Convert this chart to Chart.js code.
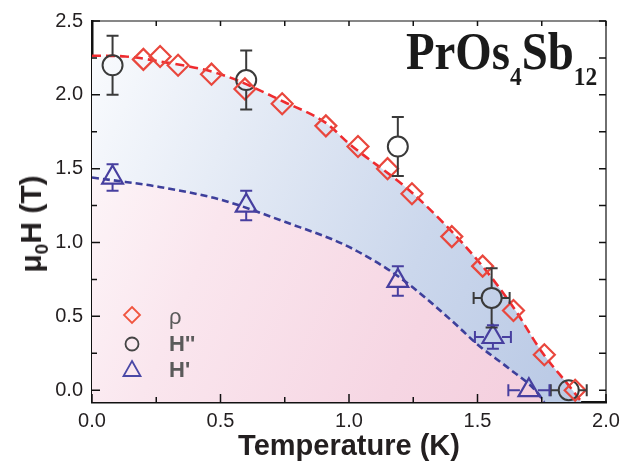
<!DOCTYPE html>
<html><head><meta charset="utf-8">
<script src="https://cdn.jsdelivr.net/npm/chart.js@4.4.1/dist/chart.umd.min.js"></script>
<style>
html,body{margin:0;padding:0;background:#fff;}
#wrap{position:relative;width:632px;height:462px;}
#ttl{position:absolute;left:406px;top:26px;font-family:'Liberation Serif','Times New Roman',serif;font-weight:bold;font-size:52px;line-height:52px;color:#1a1a1a;transform:scaleX(0.9);transform-origin:0 0;white-space:nowrap;}
#ttl span{font-size:26px;line-height:0;position:relative;top:16px;}
#ytl{position:absolute;left:31px;top:224px;transform:translate(-50%,-50%) rotate(-90deg);font-family:'Liberation Sans',Arial,sans-serif;font-weight:bold;font-size:30px;line-height:30px;color:#231f20;white-space:nowrap;}
#ytl span{font-size:19px;line-height:0;position:relative;top:7px;}
</style></head><body>
<div id="wrap"><canvas id="c" width="632" height="462"></canvas><div id="ttl">PrOs<span>4</span>Sb<span>12</span></div><div id="ytl">μ<span>0</span>H (T)</div></div>
<script>
// ---- data ----
const rhoT=[0.20,0.265,0.335,0.465,0.595,0.74,0.91,1.035,1.15,1.245,1.40,1.52,1.64,1.76,1.88];
const rhoH=[2.24,2.26,2.20,2.14,2.04,1.94,1.79,1.65,1.50,1.33,1.04,0.84,0.54,0.24,0.00];
const hppT=[0.08,0.60,1.19,1.555,1.855];
const hppH=[2.20,2.10,1.65,0.625,0.00];
const hppErrY=[0.20,0.20,0.20,0.20,0];
const hppErrX=[0,0,0,0.07,0.07];
const hpT=[0.08,0.60,1.19,1.56,1.70];
const hpH=[1.44,1.25,0.74,0.36,0.00];
const hpErrY=[0.09,0.10,0.10,0.08,0];
const hpErrX=[0,0,0,0.07,0.08];
const fitRhoT=[0,0.13,0.25,0.5,0.75,0.91,1.0,1.25,1.5,1.64,1.75,1.87,1.905];
const fitRhoH=[2.265,2.26,2.23,2.14,1.95,1.81,1.67,1.33,0.88,0.56,0.26,0.0,-0.08];
const fitHpT=[0,0.13,0.25,0.5,0.75,1.0,1.2,1.4,1.5,1.62,1.725,1.76];
const fitHpH=[1.44,1.41,1.38,1.29,1.14,0.97,0.76,0.47,0.31,0.15,0.0,-0.08];
const xTicks=[0,0.5,1,1.5,2], xMinor=[0.25,0.75,1.25,1.75];
const yTicks=[0,0.5,1,1.5,2,2.5], yMinor=[0.25,0.75,1.25,1.75,2.25];
const legendLabels=['ρ',"H''","H'"];

const pts=(xs,ys)=>xs.map((x,i)=>({x:x,y:ys[i]}));
const C_RHO='#e9473d', C_HPP='#3a3a3a', C_HP='#473f9f';

function grad(stops){
  return (ctx)=>{
    const ch=ctx.chart, a=ch.chartArea;
    if(!a) return 'rgba(0,0,0,0)';
    const g=ch.ctx.createLinearGradient(a.left,a.top,a.right,a.bottom*0.6+a.top*0.4);
    stops.forEach(s=>g.addColorStop(s[0],s[1]));
    return g;
  };
}

const errPlugin={id:'err',afterDatasetsDraw(chart){
  const {ctx,scales:{x,y}}=chart;
  const draw=(T,H,eX,eY,col,rUp,rDown,rSide)=>{
    ctx.save();ctx.strokeStyle=col;ctx.lineWidth=2;
    T.forEach((t,i)=>{
      const px=x.getPixelForValue(t), py=y.getPixelForValue(H[i]);
      if(eY[i]>0){
        const top=y.getPixelForValue(H[i]+eY[i]), bot=y.getPixelForValue(H[i]-eY[i]);
        ctx.beginPath();
        if(py-rUp>top){ctx.moveTo(px,py-rUp);ctx.lineTo(px,top);}
        if(py+rDown<bot){ctx.moveTo(px,py+rDown);ctx.lineTo(px,bot);}
        ctx.moveTo(px-6,top);ctx.lineTo(px+6,top);
        ctx.moveTo(px-6,bot);ctx.lineTo(px+6,bot);
        ctx.stroke();
      }
      if(eX[i]>0){
        const l=x.getPixelForValue(t-eX[i]), r=x.getPixelForValue(t+eX[i]);
        ctx.beginPath();
        ctx.moveTo(px-rSide,py);ctx.lineTo(l,py);
        ctx.moveTo(px+rSide,py);ctx.lineTo(r,py);
        ctx.moveTo(l,py-6);ctx.lineTo(l,py+6);
        ctx.moveTo(r,py-6);ctx.lineTo(r,py+6);
        ctx.stroke();
      }
    });
    ctx.restore();
  };
  draw(hppT,hppH,hppErrX,hppErrY,C_HPP,10,10,10);
  draw(hpT,hpH,hpErrX,hpErrY,C_HP,12,6,9);
}};

const frame={id:'frame',afterDraw(chart){
  const {ctx,chartArea:a,scales:{x,y}}=chart;
  ctx.save();ctx.strokeStyle='#111';
  ctx.lineWidth=1.2;ctx.beginPath();
  ctx.moveTo(a.left,a.top);ctx.lineTo(a.right,a.top);ctx.lineTo(a.right,a.bottom);ctx.stroke();
  ctx.lineWidth=1.5;ctx.beginPath();
  xTicks.forEach(v=>{const p=x.getPixelForValue(v);ctx.moveTo(p,a.bottom);ctx.lineTo(p,a.bottom-8);ctx.moveTo(p,a.top);ctx.lineTo(p,a.top+5);});
  xMinor.forEach(v=>{const p=x.getPixelForValue(v);ctx.moveTo(p,a.bottom);ctx.lineTo(p,a.bottom-5);ctx.moveTo(p,a.top);ctx.lineTo(p,a.top+5);});
  yTicks.forEach(v=>{const p=y.getPixelForValue(v);ctx.moveTo(a.left,p);ctx.lineTo(a.left+8,p);ctx.moveTo(a.right,p);ctx.lineTo(a.right-7,p);});
  yMinor.forEach(v=>{const p=y.getPixelForValue(v);ctx.moveTo(a.left,p);ctx.lineTo(a.left+5,p);ctx.moveTo(a.right,p);ctx.lineTo(a.right-7,p);});
  ctx.stroke();
  // legend
  const lx=a.left+40, ly=[a.top+294,a.top+323,a.top+349];
  ctx.lineWidth=1.8;
  ctx.strokeStyle='#f0553f';ctx.beginPath();
  ctx.moveTo(lx,ly[0]-8);ctx.lineTo(lx+8,ly[0]);ctx.lineTo(lx,ly[0]+8);ctx.lineTo(lx-8,ly[0]);ctx.closePath();ctx.stroke();
  ctx.strokeStyle='#444';ctx.beginPath();ctx.arc(lx,ly[1],6.5,0,Math.PI*2);ctx.stroke();
  ctx.strokeStyle='#4a48a6';ctx.beginPath();
  ctx.moveTo(lx,ly[2]-9);ctx.lineTo(lx+8.5,ly[2]+6);ctx.lineTo(lx-8.5,ly[2]+6);ctx.closePath();ctx.stroke();
  ctx.fillStyle='#5a5a5a';ctx.textBaseline='middle';ctx.textAlign='left';
  ctx.font='22px "Liberation Sans", Arial, sans-serif';
  ctx.fillText(legendLabels[0],lx+37,ly[0]+3);
  ctx.font='bold 22px "Liberation Sans", Arial, sans-serif';
  ctx.fillText(legendLabels[1],lx+37,ly[1]+1);
  ctx.fillText(legendLabels[2],lx+37,ly[2]+1);
  ctx.restore();
}};

const tickFont={family:'"Liberation Sans", Arial, sans-serif',size:20};
new Chart(document.getElementById('c'),{
  type:'scatter',
  data:{datasets:[
    {label:'ρ',data:pts(rhoT,rhoH),pointStyle:'rectRot',pointRadius:10.5,pointBorderWidth:2.2,borderColor:C_RHO,backgroundColor:'rgba(0,0,0,0)',order:0},
    {label:"H''",data:pts(hppT,hppH),pointStyle:'circle',pointRadius:10,pointBorderWidth:2,borderColor:C_HPP,backgroundColor:'rgba(0,0,0,0)',order:0},
    {label:"H'",data:pts(hpT,hpH),pointStyle:'triangle',pointRadius:12,pointBorderWidth:2.2,borderColor:C_HP,backgroundColor:'rgba(0,0,0,0)',order:0},
    {label:'fitHp',data:pts(fitHpT,fitHpH),showLine:true,pointRadius:0,borderColor:'#3d3f9b',borderWidth:2.6,borderDash:[7,4],cubicInterpolationMode:'monotone',
      fill:'start',backgroundColor:grad([[0,'#fefbfc'],[0.35,'#fae6ee'],[0.75,'#f6d6e3'],[1,'#f4cfde']]),order:1},
    {label:'fitRho',data:pts(fitRhoT,fitRhoH),showLine:true,pointRadius:0,borderColor:'#ef2b2f',borderWidth:2.6,borderDash:[9,5],cubicInterpolationMode:'monotone',
      fill:'start',backgroundColor:grad([[0,'#fbfcfe'],[0.3,'#e6ecf6'],[0.7,'#cbd7ec'],[1,'#bccbe6']]),order:1}
  ]},
  options:{
    responsive:false,animation:false,devicePixelRatio:1,
    layout:{padding:{top:18,right:26,left:0,bottom:0}},
    plugins:{legend:{display:false},tooltip:{enabled:false}},
    scales:{
      x:{type:'linear',min:0,max:2,
        afterFit:s=>{s.height=60;},
        afterBuildTicks:s=>{s.ticks=xTicks.map(v=>({value:v}));},
        ticks:{font:tickFont,color:'#231f20',padding:7,callback:v=>v.toFixed(1),maxRotation:0},
        grid:{display:false,drawTicks:false},
        border:{display:true,color:'#111',width:2.5},
        title:{display:true,text:'Temperature (K)',font:{family:'"Liberation Sans", Arial, sans-serif',size:29,weight:'bold'},color:'#231f20',padding:{top:0,bottom:-2}}},
      y:{type:'linear',min:-0.08,max:2.5,
        afterFit:s=>{s.width=92;},
        afterBuildTicks:s=>{s.ticks=yTicks.map(v=>({value:v}));},
        ticks:{font:tickFont,color:'#231f20',padding:9,callback:v=>v.toFixed(1)},
        grid:{display:false,drawTicks:false},
        border:{display:true,color:'#111',width:2.5},
        title:{display:false}}
    }
  },
  plugins:[errPlugin,frame]
});
</script>
</body></html>
